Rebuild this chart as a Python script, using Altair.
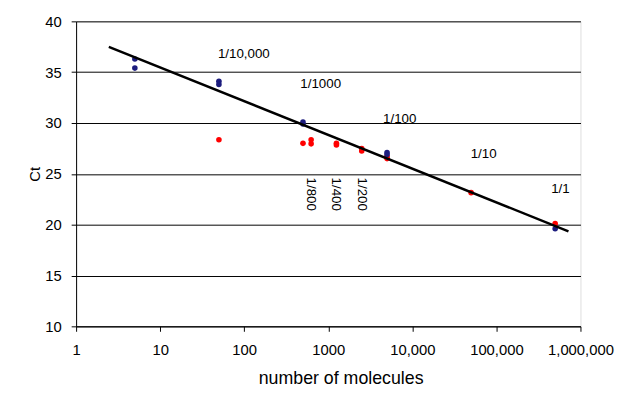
import altair as alt
import pandas as pd

# Blue series (standard dilutions)
blue_x = [5, 5, 50, 50, 500, 500, 5000, 5000, 500000]
blue_y = [36.3, 35.4, 34.1, 33.8, 30.1, 29.9, 27.1, 26.9, 19.6]

# Red series
red_x = [50, 500, 625, 625, 1250, 1250, 2500, 2500, 5000, 5000, 50000, 500000]
red_y = [28.35, 28.0, 28.35, 27.95, 28.0, 27.85, 27.5, 27.25, 26.7, 26.5, 23.15, 20.1]

# Regression line end points
line_x = [2.45, 720000]
line_y = [37.5, 19.35]

# Horizontal annotations
ann_text = ["1/10,000", "1/1000", "1/100", "1/10", "1/1"]
ann_x = [99, 813, 7070, 70500, 578000]
ann_y = [36.8, 33.8, 30.4, 26.9, 23.55]

# Vertical annotations
vann_text = ["1/800", "1/400", "1/200"]
vann_x = [625, 1250, 2500]
vann_y = [23.0, 23.0, 23.0]

x_ticks = [1, 10, 100, 1000, 10000, 100000, 1000000]
y_ticks = [10, 15, 20, 25, 30, 35, 40]

FONT = "Liberation Sans"

blue = pd.DataFrame({"x": blue_x, "y": blue_y})
red = pd.DataFrame({"x": red_x, "y": red_y})
line = pd.DataFrame({"x": line_x, "y": line_y})
ann = pd.DataFrame({"x": ann_x, "y": ann_y, "t": ann_text})
vann = pd.DataFrame({"x": vann_x, "y": vann_y, "t": vann_text})

xscale = alt.Scale(type="log", domain=[1, 1000000], nice=False)
yscale = alt.Scale(domain=[10, 40], nice=False, zero=False)

xaxis = alt.Axis(
    values=x_ticks,
    labelExpr="datum.value >= 10000 ? format(datum.value, ',') : format(datum.value, 'd')",
    grid=False, domainColor="black", tickColor="black", tickSize=5,
    labelFont=FONT, labelFontSize=15, labelColor="black", labelPadding=12,
    title="number of molecules", titleFont=FONT, titleFontSize=18,
    titleFontWeight="normal", titleColor="black", titlePadding=12,
    titleX=268, titleAlign="center",
    labelFlush=False, labelOverlap=False,
)
yaxis = alt.Axis(
    values=y_ticks, grid=True, gridColor="black", gridOpacity=1, gridWidth=1,
    domainColor="black", tickColor="black", tickSize=5,
    labelFont=FONT, labelFontSize=15, labelColor="black", labelPadding=10,
    title="Ct", titleFont=FONT, titleFontSize=15, titleFontWeight="normal",
    titleColor="black", titlePadding=2,
)

base_x = alt.X("x:Q", scale=xscale, axis=xaxis)
base_y = alt.Y("y:Q", scale=yscale, axis=yaxis)

red_pts = alt.Chart(red).mark_point(
    shape="circle", filled=True, size=32, color="#ff0000", opacity=1
).encode(x=base_x, y=base_y)

blue_pts = alt.Chart(blue).mark_point(
    shape="circle", filled=True, size=32, color="#1c1c7e", opacity=1
).encode(x=alt.X("x:Q", scale=xscale), y=alt.Y("y:Q", scale=yscale))

reg = alt.Chart(line).mark_line(color="black", strokeWidth=2.5).encode(
    x=alt.X("x:Q", scale=xscale), y=alt.Y("y:Q", scale=yscale)
)

labels = alt.Chart(ann).mark_text(
    font=FONT, fontSize=13.5, color="black", align="center", baseline="middle"
).encode(x=alt.X("x:Q", scale=xscale), y=alt.Y("y:Q", scale=yscale), text="t:N")

vlabels = alt.Chart(vann).mark_text(
    font=FONT, fontSize=13.5, color="black", align="center", baseline="middle", angle=90
).encode(x=alt.X("x:Q", scale=xscale), y=alt.Y("y:Q", scale=yscale), text="t:N")

chart = alt.layer(red_pts, blue_pts, reg, labels, vlabels).properties(
    width=511, height=309,
    autosize=alt.AutoSizeParams(type="none"),
    padding={"left": 69, "top": 11, "right": 36, "bottom": 65},
).configure_view(stroke=None).configure(background="white")

chart.save("out.html", embed_options={"renderer": "svg", "actions": False})
